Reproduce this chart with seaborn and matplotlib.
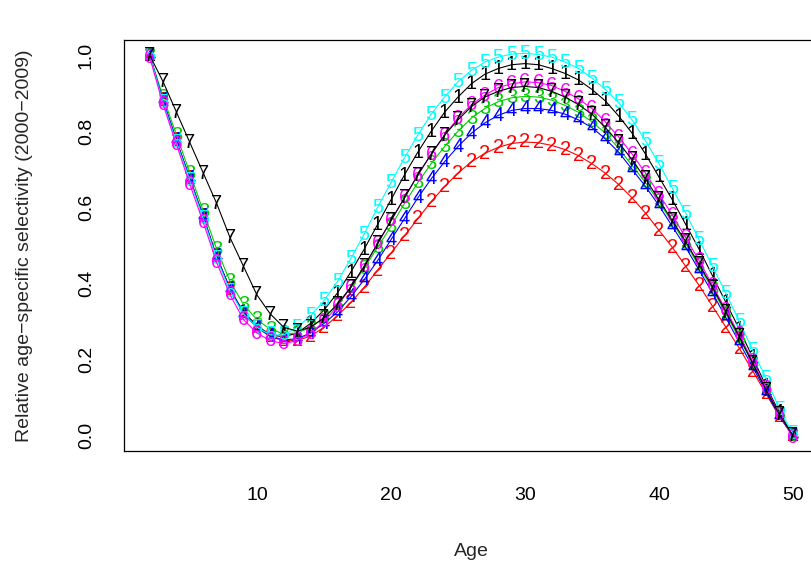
import matplotlib
matplotlib.use("Agg")
import matplotlib.pyplot as plt
import numpy as np
import pandas as pd
import seaborn as sns

ages = list(range(2, 51))

sel_1 = [1.0, 0.88, 0.775, 0.675, 0.575, 0.47, 0.385, 0.325, 0.29, 0.265, 0.26, 0.27,
         0.295, 0.33, 0.375, 0.43, 0.49, 0.555, 0.62, 0.685, 0.745, 0.8, 0.85, 0.89,
         0.925, 0.95, 0.965, 0.975, 0.978, 0.975, 0.965, 0.952, 0.935, 0.91, 0.88, 0.84,
         0.795, 0.74, 0.68, 0.62, 0.555, 0.49, 0.42, 0.35, 0.28, 0.205, 0.13, 0.06, 0.0]
sel_2 = [1.0, 0.88, 0.775, 0.675, 0.575, 0.47, 0.385, 0.32, 0.285, 0.26, 0.25, 0.25,
         0.262, 0.285, 0.315, 0.35, 0.39, 0.435, 0.48, 0.525, 0.57, 0.615, 0.655, 0.69,
         0.72, 0.742, 0.758, 0.768, 0.772, 0.77, 0.763, 0.752, 0.736, 0.715, 0.69, 0.66,
         0.625, 0.585, 0.54, 0.495, 0.445, 0.395, 0.34, 0.285, 0.23, 0.17, 0.11, 0.05, 0.0]
sel_3 = [1.0, 0.89, 0.79, 0.69, 0.59, 0.49, 0.405, 0.345, 0.305, 0.28, 0.268, 0.27,
         0.285, 0.31, 0.345, 0.39, 0.44, 0.495, 0.55, 0.61, 0.665, 0.715, 0.76, 0.8,
         0.835, 0.86, 0.878, 0.888, 0.892, 0.89, 0.882, 0.868, 0.85, 0.825, 0.795, 0.755,
         0.71, 0.665, 0.615, 0.56, 0.505, 0.445, 0.385, 0.32, 0.255, 0.19, 0.12, 0.055, 0.0]
sel_4 = [1.0, 0.88, 0.775, 0.675, 0.575, 0.47, 0.385, 0.32, 0.285, 0.262, 0.252, 0.255,
         0.27, 0.295, 0.325, 0.365, 0.41, 0.46, 0.515, 0.57, 0.625, 0.675, 0.72, 0.76,
         0.795, 0.822, 0.842, 0.855, 0.86, 0.86, 0.855, 0.845, 0.83, 0.81, 0.78, 0.745,
         0.7, 0.655, 0.605, 0.55, 0.495, 0.435, 0.375, 0.31, 0.245, 0.18, 0.115, 0.05, 0.0]
sel_5 = [1.0, 0.875, 0.77, 0.67, 0.57, 0.465, 0.38, 0.32, 0.285, 0.265, 0.265, 0.285,
         0.315, 0.355, 0.405, 0.465, 0.53, 0.6, 0.665, 0.73, 0.79, 0.845, 0.89, 0.93,
         0.96, 0.982, 0.995, 1.003, 1.005, 1.002, 0.995, 0.982, 0.965, 0.94, 0.91, 0.875,
         0.83, 0.775, 0.715, 0.65, 0.585, 0.515, 0.445, 0.375, 0.3, 0.225, 0.15, 0.07, 0.005]
sel_6 = [0.995, 0.87, 0.765, 0.66, 0.56, 0.455, 0.37, 0.305, 0.27, 0.25, 0.242, 0.25,
         0.27, 0.3, 0.34, 0.39, 0.445, 0.505, 0.565, 0.625, 0.685, 0.74, 0.79, 0.835,
         0.87, 0.895, 0.915, 0.925, 0.93, 0.928, 0.92, 0.905, 0.885, 0.86, 0.825, 0.785,
         0.74, 0.69, 0.635, 0.58, 0.52, 0.46, 0.395, 0.33, 0.265, 0.195, 0.125, 0.055, -0.005]
sel_7 = [1.0, 0.93, 0.85, 0.77, 0.69, 0.61, 0.52, 0.445, 0.37, 0.32, 0.285, 0.275,
         0.285, 0.31, 0.345, 0.39, 0.445, 0.505, 0.565, 0.625, 0.685, 0.74, 0.79, 0.83,
         0.865, 0.89, 0.905, 0.915, 0.918, 0.915, 0.905, 0.89, 0.87, 0.845, 0.81, 0.77,
         0.725, 0.675, 0.62, 0.565, 0.51, 0.45, 0.39, 0.325, 0.26, 0.19, 0.12, 0.055, 0.0]

series_labels = ["1", "2", "3", "4", "5", "6", "7"]
series_values = [sel_1, sel_2, sel_3, sel_4, sel_5, sel_6, sel_7]
colors = ["black", "#FF0000", "#00CD00", "#0000FF", "#00FFFF", "#FF00FF", "black"]

x_ticks = [10, 20, 30, 40, 50]
y_ticks = [0.0, 0.2, 0.4, 0.6, 0.8, 1.0]

df = pd.concat(
    [pd.DataFrame({"age": ages, "sel": vals, "series": lab})
     for lab, vals in zip(series_labels, series_values)],
    ignore_index=True,
)

sns.set_style("white")
plt.rcParams["font.family"] = ["Liberation Sans", "DejaVu Sans"]

fig = plt.figure(figsize=(8.11, 5.68), dpi=100)
ax = fig.add_axes([124 / 811, 1 - 451 / 568, (818.7 - 124) / 811, (451 - 40) / 568])

# lines + digit markers, one series at a time like matplot type="b"
for i, lab in enumerate(series_labels):
    sub = df[df["series"] == lab]
    sns.lineplot(data=sub, x="age", y="sel", color=colors[i], lw=0.8,
                 ax=ax, zorder=2 + i, legend=False)
    for a, v in zip(sub["age"], sub["sel"]):
        ax.text(a, v, lab, color=colors[i], fontsize=14.5, ha="center",
                va="center", zorder=2 + i)

ax.set_xlim(0.08, 51.92)
ax.set_ylim(-0.04, 1.04)
ax.set_xticks(x_ticks)
ax.set_yticks(y_ticks)
ax.set_xticklabels([str(t) for t in x_ticks])
ax.set_yticklabels([f"{t:.1f}" for t in y_ticks], rotation=90, va="center")

for sp in ax.spines.values():
    sp.set_color("black")
    sp.set_linewidth(0.9)

ax.tick_params(axis="both", direction="out", length=7, width=0.9,
               color="black", labelsize=14, labelcolor="black")
ax.tick_params(axis="x", pad=19)
ax.tick_params(axis="y", pad=14)

ax.set_xlabel("Age", fontsize=14, labelpad=28)
ax.set_ylabel("Relative age\u2212specific selectivity (2000\u22122009)", fontsize=14,
              labelpad=32)

fig.savefig("out.png", dpi=100)
